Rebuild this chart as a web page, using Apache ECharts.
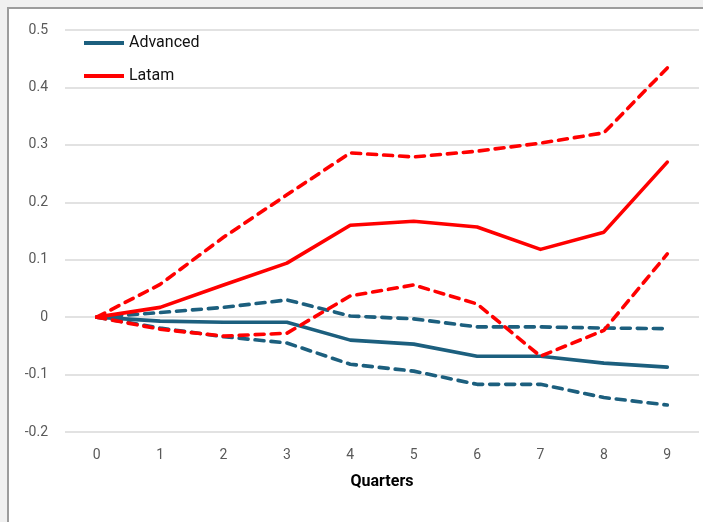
<!DOCTYPE html>
<html>
<head>
<meta charset="utf-8">
<script src="https://cdn.jsdelivr.net/npm/echarts@6/dist/echarts.min.js"></script>
<style>
    html, body { margin: 0; padding: 0; background: #f0f0f0; overflow: hidden; }
    #frame { position: absolute; left: 7px; top: 7px; width: 700px; height: 520px;
             background: #fff; border-top: 2px solid #9c9c9c; border-left: 2px solid #9c9c9c; }
    #chart { position: absolute; left: 0; top: 0; width: 703px; height: 522px; }
</style>
</head>
<body>
<div id="frame"></div>
<div id="chart"></div>
<script>
var quarters = ['0', '1', '2', '3', '4', '5', '6', '7', '8', '9'];
// Advanced economies
var advanced = [0, -0.007, -0.009, -0.009, -0.040, -0.047, -0.068, -0.068, -0.080, -0.087];
var advancedUpper = [0, 0.008, 0.017, 0.030, 0.002, -0.003, -0.017, -0.017, -0.019, -0.020];
var advancedLower = [0, -0.019, -0.034, -0.045, -0.082, -0.094, -0.117, -0.117, -0.140, -0.153];
// Latam
var latam = [0, 0.017, 0.056, 0.094, 0.160, 0.167, 0.157, 0.118, 0.148, 0.270];
var latamUpper = [0, 0.057, 0.139, 0.213, 0.286, 0.279, 0.289, 0.303, 0.321, 0.434];
var latamLower = [0, -0.021, -0.033, -0.028, 0.037, 0.056, 0.023, -0.068, -0.023, 0.110];

var blue = '#1c5f7e';
var red = '#ff0000';

var myChart = echarts.init(document.getElementById('chart'));

function line(name, data, color, dashed, z) {
    return {
        name: name,
        type: 'line',
        data: data,
        symbol: 'none',
        z: z,
        lineStyle: {
            color: color,
            width: 3.6,
            cap: 'round',
            join: 'round',
            type: dashed ? [9, 7] : 'solid'
        },
        itemStyle: { color: color },
        emphasis: { disabled: true }
    };
}

var option = {
    animation: false,
    grid: { left: 65, right: 4, top: 30, bottom: 90 },
    legend: {
        data: ['Advanced', 'Latam'],
        orient: 'vertical',
        left: 79,
        top: 30,
        itemWidth: 40,
        itemHeight: 4,
        itemGap: 17,
        icon: 'rect',
        textStyle: { color: '#111', fontSize: 16, fontFamily: 'Roboto' }
    },
    xAxis: {
        type: 'category',
        data: quarters,
        boundaryGap: true,
        name: 'Quarters',
        nameLocation: 'middle',
        nameGap: 42,
        nameTextStyle: { color: '#000', fontSize: 16, fontWeight: 'bold', fontFamily: 'Roboto' },
        axisLine: { show: false },
        axisTick: { show: false },
        axisLabel: { color: '#595959', fontSize: 14, margin: 16, fontFamily: 'Roboto' }
    },
    yAxis: {
        type: 'value',
        min: -0.2,
        max: 0.5,
        interval: 0.1,
        axisLine: { show: false },
        axisTick: { show: false },
        axisLabel: {
            color: '#595959', fontSize: 14, margin: 17, fontFamily: 'Roboto',
            formatter: function (v) { return String(Math.round(v * 10) / 10); }
        },
        splitLine: { lineStyle: { color: '#d9d9d9', width: 1.5 } }
    },
    series: [
        line('Advanced upper', advancedUpper, blue, true, 2),
        line('Advanced lower', advancedLower, blue, true, 2),
        line('Advanced', advanced, blue, false, 3),
        line('Latam upper', latamUpper, red, true, 4),
        line('Latam lower', latamLower, red, true, 4),
        line('Latam', latam, red, false, 5)
    ]
};
myChart.setOption(option);
</script>
</body>
</html>
